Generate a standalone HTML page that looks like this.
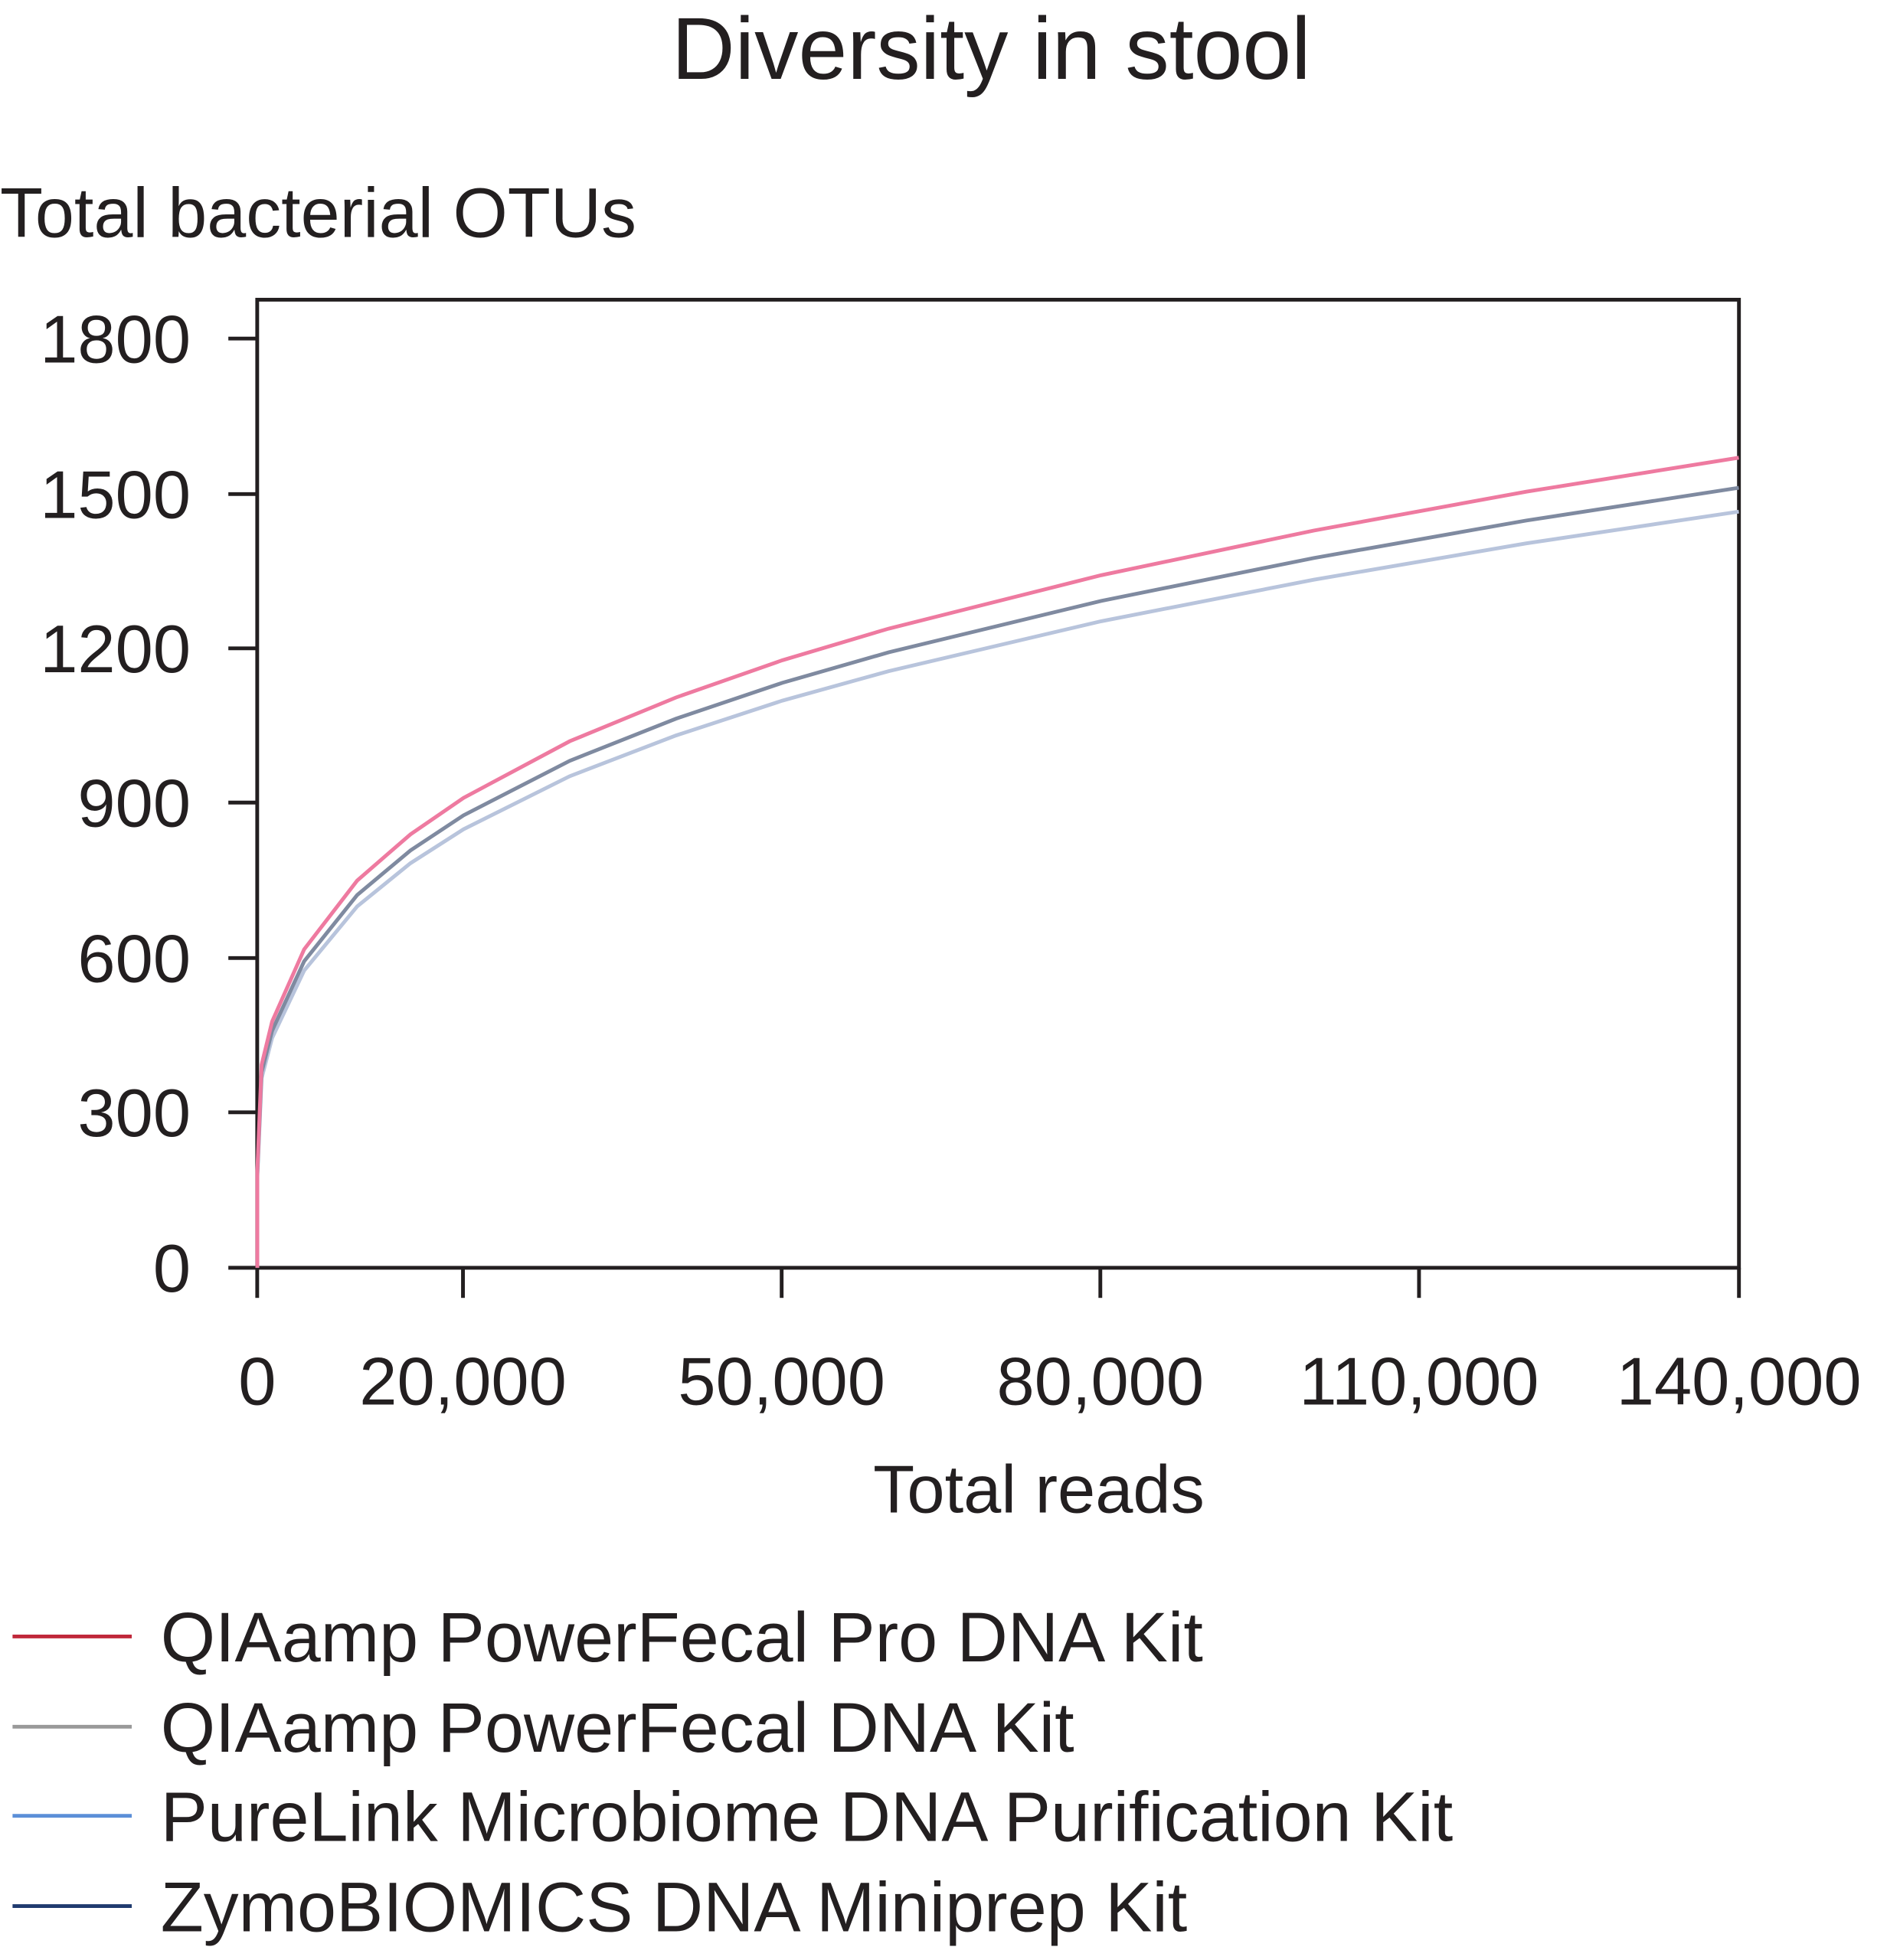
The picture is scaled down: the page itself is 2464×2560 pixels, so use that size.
<!DOCTYPE html>
<html><head><meta charset="utf-8"><style>
html,body{margin:0;padding:0;background:#fff;}
svg{display:block;}
text{font-family:"Liberation Sans",sans-serif;fill:#231f20;}
</style></head><body>
<svg width="2464" height="2560" viewBox="0 0 1504 1563" preserveAspectRatio="none" xmlns="http://www.w3.org/2000/svg">
<text x="790" y="63" font-size="70" text-anchor="middle">Diversity in stool</text>
<text x="0" y="189" font-size="56">Total bacterial OTUs</text>
<rect x="205" y="239" width="1181" height="772" fill="none" stroke="#231f20" stroke-width="3"/>
<g stroke="#231f20" stroke-width="3">
<line x1="182" y1="270" x2="205" y2="270"/><line x1="182" y1="394" x2="205" y2="394"/><line x1="182" y1="517" x2="205" y2="517"/><line x1="182" y1="640" x2="205" y2="640"/><line x1="182" y1="764" x2="205" y2="764"/><line x1="182" y1="887" x2="205" y2="887"/><line x1="182" y1="1011" x2="205" y2="1011"/>
<line x1="205" y1="1011" x2="205" y2="1035"/><line x1="369" y1="1011" x2="369" y2="1035"/><line x1="623" y1="1011" x2="623" y2="1035"/><line x1="877" y1="1011" x2="877" y2="1035"/><line x1="1131" y1="1011" x2="1131" y2="1035"/><line x1="1386" y1="1011" x2="1386" y2="1035"/>
</g>
<g font-size="54" text-anchor="end">
<text x="152" y="289">1800</text><text x="152" y="413">1500</text><text x="152" y="536">1200</text><text x="152" y="659">900</text><text x="152" y="783">600</text><text x="152" y="906">300</text><text x="152" y="1030">0</text>
</g>
<g font-size="54" text-anchor="middle">
<text x="205" y="1120">0</text><text x="369" y="1120">20,000</text><text x="623" y="1120">50,000</text><text x="877" y="1120">80,000</text><text x="1131" y="1120">110,000</text><text x="1386" y="1120">140,000</text>
<text x="828" y="1206">Total reads</text>
</g>
<path fill="none" stroke="#b8c4dc" stroke-width="3" d="M205.1,1011 L205.1,938.6 L208.5,859.9 L216.9,827.7 L242.4,774 L284.7,722.8 L327.1,688.4 L369.4,661.3 L454.1,619 L538.8,586.5 L623.6,558.7 L708.3,535.2 L877.7,495.4 L1047.1,462.3 L1216.5,433.3 L1385.9,408"/>
<path fill="none" stroke="#7f8aa0" stroke-width="3" d="M205.1,1011 L205.1,936.4 L208.5,855.1 L216.9,821.9 L242.4,766.6 L284.7,713.7 L327.1,678.2 L369.4,650.2 L454.1,606.7 L538.8,573.1 L623.6,544.5 L708.3,520.2 L877.7,479.2 L1047.1,445 L1216.5,415.1 L1385.9,389"/>
<path fill="none" stroke="#ee7aa0" stroke-width="3" d="M205.1,1011 L205.1,933.5 L208.5,849.1 L216.9,814.6 L242.4,757.1 L284.7,702.2 L327.1,665.4 L369.4,636.3 L454.1,591.1 L538.8,556.2 L623.6,526.5 L708.3,501.3 L877.7,458.7 L1047.1,423.1 L1216.5,392.1 L1385.9,365"/>
<g stroke-width="3">
<line x1="10" y1="1305" x2="105" y2="1305" stroke="#c0283a"/>
<line x1="10" y1="1377" x2="105" y2="1377" stroke="#999999"/>
<line x1="10" y1="1448" x2="105" y2="1448" stroke="#5b8fd8"/>
<line x1="10" y1="1520" x2="105" y2="1520" stroke="#1f3a6e"/>
</g>
<g font-size="56">
<text x="128" y="1325">QIAamp PowerFecal Pro DNA Kit</text>
<text x="128" y="1397">QIAamp PowerFecal DNA Kit</text>
<text x="128" y="1468">PureLink Microbiome DNA Purification Kit</text>
<text x="128" y="1540">ZymoBIOMICS DNA Miniprep Kit</text>
</g>
</svg>
</body></html>
